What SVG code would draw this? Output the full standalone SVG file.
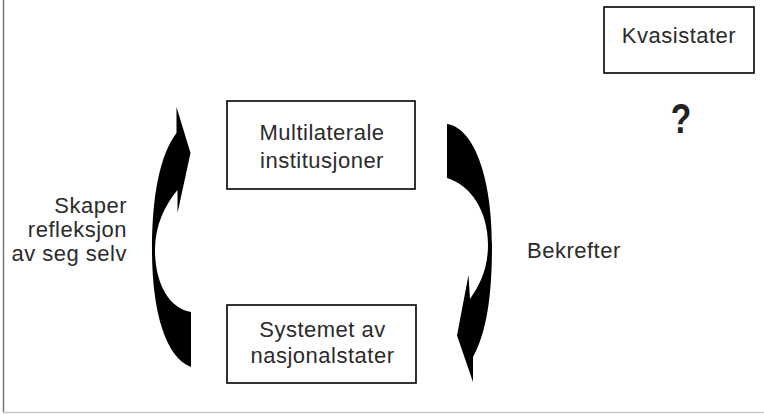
<svg xmlns="http://www.w3.org/2000/svg" width="764" height="414" viewBox="0 0 764 414">
<style>
.box{fill:#fff;stroke:#000;stroke-width:1.6}
.t{font-family:"Liberation Sans",Arial,sans-serif;font-size:22px;fill:#2b2b2b;letter-spacing:0.5px}
.arrow{fill:#000;stroke:none}
</style>
<rect width="764" height="414" fill="#fff"/>
<g id="frame">
<line x1="3.5" y1="0" x2="3.5" y2="412.5" stroke="#777" stroke-width="1.5"/>
<line x1="3" y1="412.5" x2="764" y2="412.5" stroke="#c8c8c8" stroke-width="1.5"/>
</g>
<g id="node-multilaterale">
<rect class="box" x="227" y="101" width="188" height="88"/>
<text class="t" x="322" y="140" text-anchor="middle">Multilaterale</text>
<text class="t" x="322" y="168" text-anchor="middle">institusjoner</text>
</g>
<g id="node-systemet">
<rect class="box" x="227" y="305" width="189" height="78"/>
<text class="t" x="322.5" y="337" text-anchor="middle">Systemet av</text>
<text class="t" x="322.5" y="363" text-anchor="middle">nasjonalstater</text>
</g>
<g id="node-kvasistater">
<rect class="box" x="604" y="7" width="150" height="66"/>
<text class="t" x="679" y="43" text-anchor="middle">Kvasistater</text>
</g>
<g id="question">
<text x="0" y="0" transform="translate(681 133) scale(0.8 1)" text-anchor="middle" font-family="Liberation Sans,Arial,sans-serif" font-weight="bold" font-size="42" fill="#222">?</text>
</g>
<g id="connectors">
<path class="arrow" d="M176.5,107 L190.5,153 L177.5,213 L177.5,190 C165,205 155,225 155,250 C155,282 168,308 191,312 L191,367 C165,357 152,310 152,250 C152,195 160,155 176.5,133 Z"/>
<path class="arrow" d="M473,382 L457,335.5 L468.5,275 L470,299 C480,285 488,268 488,245 C488,210 470,185 447,178 L447,124 C475,128 492,180 492,245 C492,290 488,330 473,357 Z"/>
</g>
<g id="labels">
<text class="t" x="127" y="213" text-anchor="end">Skaper</text>
<text class="t" x="127" y="237" text-anchor="end">refleksjon</text>
<text class="t" x="127" y="261" text-anchor="end">av seg selv</text>
<text class="t" x="527" y="258">Bekrefter</text>
</g>
</svg>
